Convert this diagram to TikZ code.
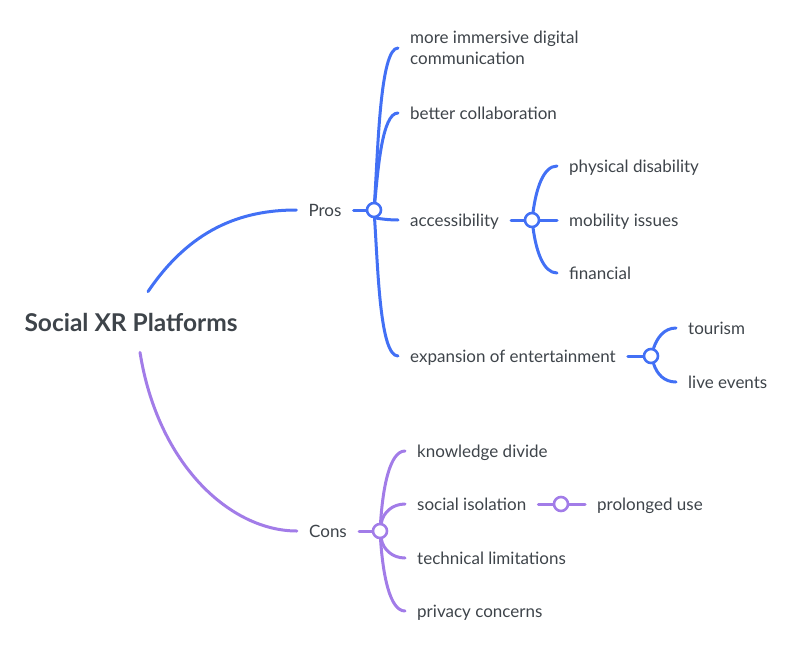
\documentclass[tikz,border=0pt]{standalone}
\usepackage{fontspec}
\setmainfont{Lato}
\usetikzlibrary{positioning}
\definecolor{problue}{RGB}{66,112,245}
\definecolor{conpurple}{RGB}{162,124,232}
\definecolor{labelgray}{RGB}{62,68,74}

\begin{document}
\begin{tikzpicture}[x=1pt, y=-1pt,
  every node/.style={font=\fontsize{17}{21}\selectfont, text=labelgray, inner xsep=12pt, inner ysep=2pt},
  topic/.style={text depth=0pt},
  leaf/.style={topic, anchor=west, align=left},
  hub/.style={circle, draw, fill=white, line width=2.6pt, minimum size=14pt, inner sep=0pt},
  link/.style={line width=3pt, line cap=round}]
  \useasboundingbox (0,0) rectangle (792,648);

  \node[font=\bfseries\fontsize{24.5}{28}\selectfont, anchor=base, inner ysep=21pt] (root) at (131,331) {Social XR Platforms};

  % pros
  \node[topic] (pros) at (325,210) {Pros};
  \node[hub, draw=problue] (pj) at (374,210) {};
  \node[leaf] (immersive) at (398,48) {more immersive digital\\communication};
  \node[leaf] (collab) at (398,113) {better collaboration};
  \node[leaf] (access) at (398,220) {accessibility};
  \node[leaf] (enter) at (398,356) {expansion of entertainment};
  \node[hub, draw=problue] (aj) at (532,220) {};
  \node[leaf] (physical) at (557,166) {physical disability};
  \node[leaf] (mobility) at (557,220) {mobility issues};
  \node[leaf] (financial) at (557,273) {financial};
  \node[hub, draw=problue] (ej) at (651,356) {};
  \node[leaf] (tourism) at (676,328) {tourism};
  \node[leaf] (events) at (676,382) {live events};

  % cons
  \node[topic] (cons) at (328,531) {Cons};
  \node[hub, draw=conpurple] (cj) at (380,531) {};
  \node[leaf] (divide) at (405,451) {knowledge divide};
  \node[leaf] (isolation) at (405,504) {social isolation};
  \node[leaf] (technical) at (405,558) {technical limitations};
  \node[leaf] (privacy) at (405,611) {privacy concerns};
  \node[hub, draw=conpurple] (sj) at (561,504) {};
  \node[leaf] (prolonged) at (585,504) {prolonged use};

  \begin{scope}[link, problue]
    \draw ([xshift=17pt]root.north) .. controls +(42,-62) and +(-56,0) .. (pros.west);
    \draw (pros.east) -- (pj);
    \draw (pj) .. controls +(4,-60) and +(-18,0) .. (immersive.west);
    \draw (pj) .. controls +(4,-40) and +(-16,0) .. (collab.west);
    \draw (pj) .. controls +(2,8) and +(-12,0) .. (access.west);
    \draw (pj) .. controls +(4,60) and +(-18,0) .. (enter.west);
    \draw (access.east) -- (aj);
    \draw (aj) .. controls +(4,-30) and +(-14,0) .. (physical.west);
    \draw (aj) -- (mobility.west);
    \draw (aj) .. controls +(4,30) and +(-14,0) .. (financial.west);
    \draw (enter.east) -- (ej);
    \draw (ej) .. controls +(6,-18) and +(-12,0) .. (tourism.west);
    \draw (ej) .. controls +(6,18) and +(-12,0) .. (events.west);
  \end{scope}
  \begin{scope}[link, conpurple]
    \draw ([xshift=9pt]root.south) .. controls +(18,113) and +(-66,0) .. (cons.west);
    \draw (cons.east) -- (cj);
    \draw (cj) .. controls +(3,-45) and +(-15,0) .. (divide.west);
    \draw (cj) .. controls +(3,-18) and +(-13,0) .. (isolation.west);
    \draw (cj) .. controls +(3,18) and +(-13,0) .. (technical.west);
    \draw (cj) .. controls +(3,45) and +(-15,0) .. (privacy.west);
    \draw (isolation.east) -- (sj);
    \draw (sj) -- (prolonged.west);
  \end{scope}
\end{tikzpicture}
\end{document}
